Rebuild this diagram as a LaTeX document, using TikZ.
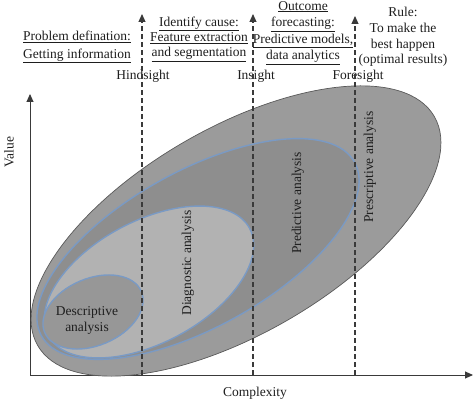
\documentclass[tikz,border=0pt]{standalone}
\usepackage{fontspec}
\setmainfont{Liberation Serif}
\usetikzlibrary{arrows.meta}
\definecolor{outerfill}{HTML}{9B9B9B}
\definecolor{predfill}{HTML}{8E8E8E}
\definecolor{diagfill}{HTML}{B2B2B2}
\definecolor{descfill}{HTML}{979797}
\definecolor{blueline}{HTML}{7A9AC4}
\definecolor{axisgray}{HTML}{3A3A3A}
\definecolor{txt}{HTML}{1E1E1E}
\begin{document}
\begin{tikzpicture}[x=1pt,y=-1pt,
  font=\fontsize{13.5}{15.5}\selectfont,
  every node/.style={text=txt, inner sep=0pt},
  axisline/.style={draw=axisgray, line width=0.9pt, -{Triangle[length=8pt,width=7pt]}},
  sightline/.style={draw=axisgray, line width=1.1pt, dash pattern=on 5pt off 3pt, -{Triangle[length=8pt,width=7pt]}},
  outerreg/.style={fill=outerfill, draw=black!65, line width=0.7pt},
  bluereg/.style={draw=blueline, line width=1.4pt},
  lbl/.style={align=center}
]
\useasboundingbox (0,0) rectangle (474,403);
% axes
\coordinate (O) at (30,375);
\coordinate (Ytip) at (30,94);
\coordinate (Xtip) at (473,375);
\draw[axisline] (O) -- (Ytip);
\draw[axisline] (O) -- (Xtip);
% regions
\path[outerreg, rotate around={30:(236,231)}] (236,231) ellipse [x radius=229pt, y radius=103pt];
\path[bluereg, fill=predfill, rotate around={29:(198,249)}] (198,249) ellipse [x radius=179pt, y radius=78pt];
\path[bluereg, fill=diagfill, rotate around={28:(149,282)}] (149,282) ellipse [x radius=114pt, y radius=61pt];
\path[bluereg, fill=descfill, rotate around={23:(93,312)}] (93,312) ellipse [x radius=52.5pt, y radius=33.5pt];
% sight lines
\coordinate (H0) at (142,375); \coordinate (H1) at (142,14);
\coordinate (I0) at (253,375); \coordinate (I1) at (253,14);
\coordinate (F0) at (355,375); \coordinate (F1) at (355,16);
% labels
\node (hind) at (143,76) {Hindsight};
\node (ins) at (256,76) {Insight};
\node (fore) at (358,76) {Foresight};
\draw[sightline] (H0) -- (H1);
\draw[sightline] (I0) -- (I1);
\draw[sightline] (F0) -- (F1);
\node[lbl, font=\fontsize{13.5}{18}\selectfont] (prob) at (77,47) {\underline{Problem defination:}\\\underline{Getting information}};
\node[lbl, font=\fontsize{13.5}{15.2}\selectfont] (ident) at (199,39) {\underline{Identify cause:}\\\underline{Feature extraction}\\\underline{and segmentation}};
\node[lbl, font=\fontsize{13.5}{16.6}\selectfont] (outc) at (303,33) {\underline{Outcome}\\\underline{forecasting:}\\\underline{Predictive models,}\\\underline{data analytics}};
\node[lbl, font=\fontsize{13.5}{15.6}\selectfont] (rule) at (403,37) {Rule:\\To make the\\best happen\\(optimal results)};
\node[lbl, font=\fontsize{13.5}{16}\selectfont] (desc) at (87,320) {Descriptive\\analysis};
\node[rotate=90] (diag) at (188,263) {Diagnostic analysis};
\node[rotate=90] (pred) at (298,203) {Predictive analysis};
\node[rotate=90] (presc) at (370,167) {Prescriptive analysis};
\node[rotate=90] (val) at (9,152) {Value};
\node (cplx) at (255,393) {Complexity};
\end{tikzpicture}
\end{document}
